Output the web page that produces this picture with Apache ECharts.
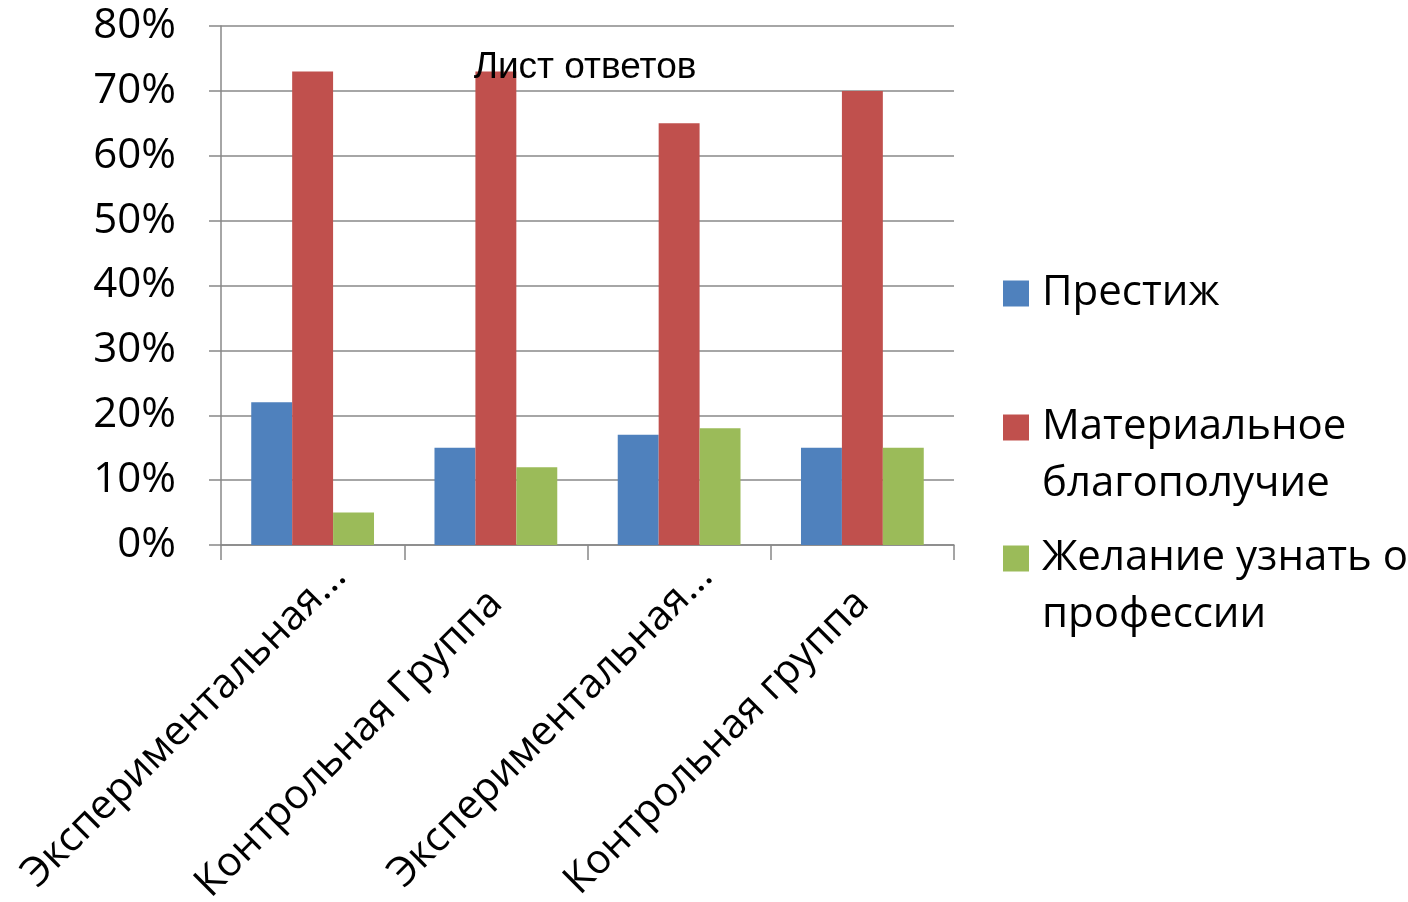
<!DOCTYPE html>
<html>
<head>
<meta charset="utf-8">
<script src="https://cdn.jsdelivr.net/npm/echarts@6/dist/echarts.min.js"></script>
<style>html,body{margin:0;padding:0;background:#fff}#c{width:1408px;height:902px}</style>
</head>
<body>
<div id="c"></div>
<script>
const categories = ['Экспериментальная...', 'Контрольная Группа', 'Экспериментальная...', 'Контрольная группа'];
const seriesNames = ['Престиж', 'Материальное благополучие', 'Желание узнать о профессии'];
const prestige = [22, 15, 17, 15];
const material = [73, 73, 65, 70];
const desire = [5, 12, 18, 15];
const yTicks = [0, 10, 20, 30, 40, 50, 60, 70, 80];
const colors = ['#4F81BD', '#C0504D', '#9BBB59'];
// leading empty line keeps the icon aligned with the first text line
const wrapped = {
  'Престиж': 'Престиж',
  'Материальное благополучие': '\nМатериальное\nблагополучие',
  'Желание узнать о профессии': '\nЖелание узнать о\nпрофессии'
};

const FONT = 'Open Sans';
const chart = echarts.init(document.getElementById('c'));
const legendBase = {
  left: 1003, orient: 'vertical', padding: 0, itemWidth: 26, itemHeight: 26,
  icon: 'rect', selectedMode: false,
  formatter: n => wrapped[n],
  textStyle: { fontFamily: FONT, fontSize: 42, color: '#000', lineHeight: 57, padding: [0, 0, 0, 8] }
};
// truncated labels sit a little further along their direction in the original
const catData = categories.map(c => c.endsWith('...')
  ? { value: c, textStyle: { padding: [0, -38, 0, 0] } }
  : { value: c });
chart.setOption({
  animation: false,
  color: colors,
  title: {
    text: 'Лист ответов', left: 580, top: 44, textAlign: 'center',
    textStyle: { fontFamily: 'Liberation Sans', fontSize: 37, fontWeight: 'normal', color: '#000' }
  },
  legend: [
    Object.assign({}, legendBase, { top: 265, data: [seriesNames[0]] }),
    Object.assign({}, legendBase, { top: 342, data: [seriesNames[1]] }),
    Object.assign({}, legendBase, { top: 473, data: [seriesNames[2]] })
  ],
  grid: { left: 221, right: 454, top: 26, bottom: 357, containLabel: false, outerBoundsMode: 'none' },
  xAxis: {
    type: 'category', data: catData,
    axisLine: { show: true, lineStyle: { color: '#888', width: 1.5 } },
    axisTick: { show: true, length: 15, lineStyle: { color: '#888', width: 1.5 } },
    axisLabel: { rotate: 45, margin: 52, interval: 0, fontFamily: FONT, fontSize: 41, color: '#000' }
  },
  yAxis: {
    type: 'value', min: yTicks[0], max: yTicks[yTicks.length - 1], interval: 10,
    axisLine: { show: true, lineStyle: { color: '#888', width: 1.5 } },
    axisTick: { show: true, length: 12, lineStyle: { color: '#888', width: 1.5 } },
    splitLine: { show: true, lineStyle: { color: '#888', width: 1.5 } },
    axisLabel: { margin: 45, formatter: '{value}%', fontFamily: FONT, fontSize: 42, color: '#000' }
  },
  series: [
    { name: seriesNames[0], type: 'bar', data: prestige, barGap: '0%', barCategoryGap: '33%' },
    { name: seriesNames[1], type: 'bar', data: material, barGap: '0%', barCategoryGap: '33%' },
    { name: seriesNames[2], type: 'bar', data: desire, barGap: '0%', barCategoryGap: '33%' }
  ]
});
</script>
</body>
</html>
